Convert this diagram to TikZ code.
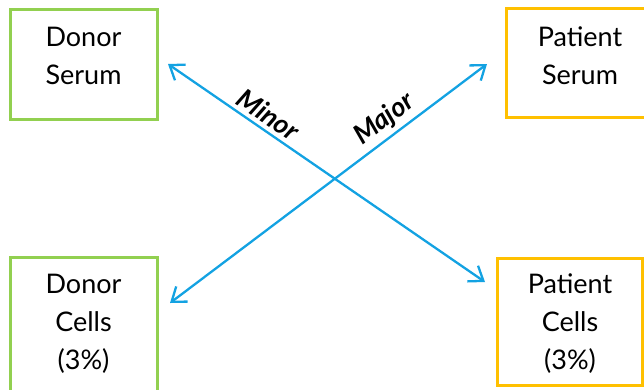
\documentclass[tikz,border=0pt]{standalone}
\usepackage{fontspec}
\setmainfont{Lato}
\usetikzlibrary{arrows.meta}
\definecolor{donorgreen}{HTML}{92D050}
\definecolor{patientgold}{HTML}{FFC000}
\definecolor{linkblue}{HTML}{13A2E2}
\tikzset{
  donorbox/.style={draw=donorgreen, line width=3pt, fill=white},
  patientbox/.style={draw=patientgold, line width=3pt, fill=white},
  boxtext/.style={align=center, font=\fontsize{27}{38}\selectfont, inner sep=0pt},
  link/.style={draw=linkblue, line width=2.3pt,
    {Straight Barb[length=13pt,width=19pt,line width=2.3pt]}-{Straight Barb[length=13pt,width=19pt,line width=2.3pt]}},
  linklabel/.style={font=\fontsize{27}{30}\selectfont\bfseries\itshape, sloped, above, inner sep=4pt}
}
\begin{document}
\begin{tikzpicture}[x=1pt, y=-1pt]
  \useasboundingbox (0,0) rectangle (644,389);
  \clip (0,0) rectangle (644,389);

  % boxes
  \draw[donorbox] (10,9) rectangle (157,119);
  \draw[patientbox] (506,8) rectangle (654,117);
  \draw[donorbox] (10,257) rectangle (157,400);
  \draw[patientbox] (497,258) rectangle (642,385);

  % box captions
  \node[boxtext] (ds) at (83.5,56) {Donor\\Serum};
  \node[boxtext] (ps) at (580,56) {Patient\\Serum};
  \node[boxtext] (dc) at (83.5,324) {Donor\\Cells\\(3\%)};
  \node[boxtext] (pc) at (570,324) {Patient\\Cells\\(3\%)};

  % arrow end points
  \coordinate (dsEnd) at (168,64);
  \coordinate (pcEnd) at (485,282);
  \coordinate (dcEnd) at (170,303);
  \coordinate (psEnd) at (487,64);

  % cross-match arrows
  \draw[link] (dsEnd) -- node[linklabel, pos=0.29] (minor) {Minor} (pcEnd);
  \draw[link] (dcEnd) -- node[linklabel, pos=0.71] (major) {Major} (psEnd);
\end{tikzpicture}
\end{document}
